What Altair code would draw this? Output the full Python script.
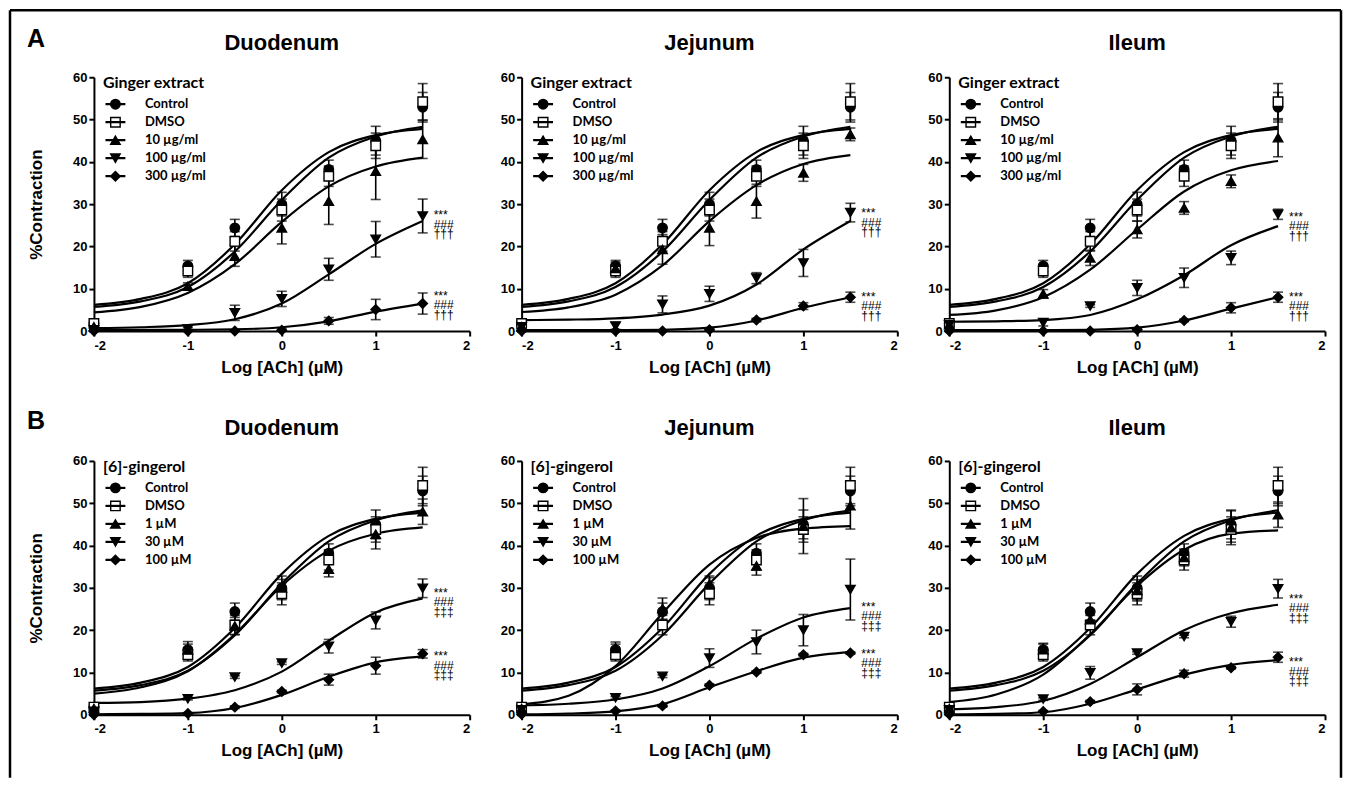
import altair as alt
import pandas as pd

# ---------------- data ----------------
X_DOSES = [-2, -1, -0.5, 0, 0.5, 1, 1.5]
CURVE_X = [-2, -1.5, -1, -0.5, 0, 0.5, 1, 1.5]
TISSUES = ["Duodenum", "Jejunum", "Ileum"]

GINGER_TITLE = "Ginger extract"
GINGEROL_TITLE = "[6]-gingerol"
GINGER_SERIES = ["Control", "DMSO", "10 µg/ml", "100 µg/ml", "300 µg/ml"]
GINGEROL_SERIES = ["Control", "DMSO", "1 µM", "30 µM", "100 µM"]

CONTROL_MEAN = [1.8, 15.4, 24.4, 30.0, 38.2, 45.0, 52.9]
CONTROL_SEM = [0.5, 1.3, 2.0, 2.8, 2.2, 3.4, 3.5]
CONTROL_CURVE = [6.2, 7.6, 11.3, 20.5, 33.3, 42.3, 46.3, 47.8]
DMSO_MEAN = [1.8, 14.2, 21.2, 28.6, 36.6, 43.8, 54.2]
DMSO_SEM = [0.6, 1.5, 2.3, 2.6, 2.4, 3.0, 4.3]
DMSO_CURVE = [5.7, 7.0, 10.4, 18.8, 31.0, 41.0, 46.0, 48.3]

GINGER10_MEAN = {"Duodenum": [1.0, 10.6, 17.7, 24.4, 30.7, 37.8, 45.3],
                 "Jejunum": [1.0, 14.8, 19.3, 24.4, 30.7, 37.4, 46.5],
                 "Ileum": [1.5, 8.8, 17.3, 24.0, 29.1, 35.4, 45.7]}
GINGER10_SEM = {"Duodenum": [0.5, 0.8, 2.4, 3.8, 5.5, 6.7, 4.5],
                "Jejunum": [0.5, 1.5, 3.5, 4.2, 4.0, 2.0, 1.5],
                "Ileum": [0.5, 1.0, 1.8, 2.0, 1.5, 1.5, 4.5]}
GINGER10_CURVE = {"Duodenum": [4.4, 5.7, 9.0, 15.8, 25.8, 34.2, 38.9, 41.0],
                  "Jejunum": [4.5, 5.6, 8.6, 15.5, 26.0, 34.5, 39.5, 41.6],
                  "Ileum": [3.8, 4.9, 8.0, 14.5, 24.0, 33.0, 38.0, 40.2]}

GINGER100_MEAN = {"Duodenum": [0.3, 0.5, 4.3, 7.6, 14.6, 21.7, 27.2],
                  "Jejunum": [1.0, 1.2, 6.3, 8.8, 12.5, 16.1, 28.0],
                  "Ileum": [1.5, 2.0, 5.9, 10.2, 12.6, 17.3, 27.6]}
GINGER100_SEM = {"Duodenum": [0.3, 0.3, 1.8, 1.8, 2.6, 4.2, 4.0],
                 "Jejunum": [0.5, 0.8, 2.0, 1.8, 1.3, 3.2, 2.2],
                 "Ileum": [0.5, 0.8, 0.3, 1.8, 2.3, 1.6, 1.2]}
GINGER100_CURVE = {"Duodenum": [0.7, 0.9, 1.4, 2.8, 6.5, 13.4, 20.6, 26.0],
                   "Jejunum": [2.6, 2.7, 3.0, 3.9, 6.0, 11.0, 19.3, 26.0],
                   "Ileum": [2.2, 2.3, 2.6, 3.8, 7.5, 13.2, 20.3, 24.8]}

GINGER300_MEAN = {"Duodenum": [0.0, 0.0, 0.0, 0.2, 2.4, 5.1, 6.5],
                  "Jejunum": [0.0, 0.0, 0.0, 0.3, 2.6, 5.9, 8.0],
                  "Ileum": [0.0, 0.0, 0.0, 0.3, 2.5, 5.5, 8.0]}
GINGER300_SEM = {"Duodenum": [0.2, 0.2, 0.2, 0.3, 0.8, 2.4, 2.5],
                 "Jejunum": [0.2, 0.2, 0.2, 0.3, 0.4, 0.8, 1.2],
                 "Ileum": [0.2, 0.2, 0.2, 0.3, 0.3, 1.2, 1.2]}
GINGER300_CURVE = {"Duodenum": [0.3, 0.3, 0.3, 0.4, 0.9, 2.3, 4.6, 6.5],
                   "Jejunum": [0.2, 0.2, 0.2, 0.3, 0.8, 2.5, 5.5, 8.0],
                   "Ileum": [0.2, 0.2, 0.2, 0.3, 0.8, 2.5, 5.3, 8.0]}

GINGEROL1_MEAN = {"Duodenum": [1.5, 15.3, 21.0, 30.0, 34.4, 42.7, 48.0],
                  "Jejunum": [1.5, 15.7, 25.1, 30.9, 35.2, 44.6, 49.4],
                  "Ileum": [1.5, 15.4, 22.5, 29.4, 37.2, 44.2, 47.3]}
GINGEROL1_SEM = {"Duodenum": [0.5, 2.0, 2.0, 2.0, 1.8, 3.5, 3.0],
                 "Jejunum": [0.5, 1.5, 2.5, 1.5, 2.2, 6.5, 5.5],
                 "Ileum": [0.5, 1.5, 2.0, 2.5, 2.0, 4.0, 3.0]}
GINGEROL1_CURVE = {"Duodenum": [5.0, 6.5, 10.3, 19.0, 30.5, 38.8, 42.8, 44.3],
                   "Jejunum": [2.5, 4.5, 11.5, 24.0, 35.5, 41.8, 44.0, 44.6],
                   "Ileum": [3.0, 4.8, 9.5, 19.0, 30.5, 39.0, 42.8, 43.6]}

GINGEROL30_MEAN = {"Duodenum": [0.8, 3.8, 8.9, 12.2, 16.2, 22.3, 29.9],
                   "Jejunum": [1.2, 4.0, 9.1, 13.4, 17.2, 20.0, 29.6],
                   "Ileum": [1.2, 3.7, 9.9, 14.6, 18.5, 22.0, 29.8]}
GINGEROL30_SEM = {"Duodenum": [0.3, 0.3, 0.3, 0.3, 1.6, 2.0, 2.2],
                  "Jejunum": [0.3, 0.3, 0.3, 2.2, 2.8, 3.7, 7.2],
                  "Ileum": [0.3, 0.3, 1.5, 0.3, 0.3, 1.3, 2.2]}
GINGEROL30_CURVE = {"Duodenum": [2.8, 3.0, 3.8, 5.8, 10.2, 17.5, 24.2, 27.5],
                    "Jejunum": [2.2, 2.6, 3.6, 6.2, 11.5, 18.0, 23.0, 25.2],
                    "Ileum": [1.3, 1.8, 3.3, 7.3, 13.6, 20.0, 24.0, 26.0]}

GINGEROL100_MEAN = {"Duodenum": [0.0, 0.3, 1.8, 5.5, 8.3, 11.6, 14.4],
                    "Jejunum": [0.1, 0.9, 2.1, 7.0, 10.1, 14.2, 14.6],
                    "Ileum": [0.1, 0.8, 3.1, 6.0, 9.7, 11.1, 13.6]}
GINGEROL100_SEM = {"Duodenum": [0.2, 0.2, 0.3, 0.3, 1.3, 2.0, 1.0],
                   "Jejunum": [0.2, 0.2, 0.3, 0.3, 0.3, 0.3, 0.3],
                   "Ileum": [0.2, 0.2, 0.3, 1.3, 0.8, 0.3, 1.2]}
GINGEROL100_CURVE = {"Duodenum": [0.1, 0.2, 0.4, 1.6, 4.7, 9.0, 12.4, 13.8],
                     "Jejunum": [0.1, 0.3, 0.8, 2.5, 6.5, 10.3, 13.5, 14.8],
                     "Ileum": [0.1, 0.2, 0.6, 2.6, 6.0, 9.5, 11.8, 12.9]}

# significance marks: y value of each stack (two treated series per panel)
ANNOT_A_Y = {"Duodenum": [27.4, 8.3], "Jejunum": [27.8, 8.1], "Ileum": [27.0, 8.1]}
ANNOT_B_Y = {"Duodenum": [28.8, 13.8], "Jejunum": [25.5, 14.4], "Ileum": [27.4, 12.4]}
ANNOT_A_TEXT = "***\n###\n†††"
ANNOT_B_TEXT = "***\n###\n‡‡‡"

# ---------------- styling ----------------
SHAPES = ["circle", "square", "triangle-up", "triangle-down", "diamond"]
FILLS = ["black", "white", "black", "black", "black"]
STROKES = ["black"] * 5
LEGEND_LINE = "M-2.1,0H2.1"
AXIS_FONT = "Liberation Sans"
LEG_FONT = "Lato"
PW, PH = 376, 254
MARK_SIZE = 90


def legend_params(title, line):
    # two legends are overlaid: one draws the line of each entry, the other
    # the marker, the label and the title; fixed entry heights keep them aligned
    common = dict(
        orient="none", legendX=9, legendY=-2, padding=0, direction="vertical",
        titleFont=LEG_FONT, titleFontSize=16, titleFontWeight="bold", titleColor="black",
        titlePadding=4,
        labelFont=LEG_FONT, labelFontSize=13, labelFontWeight="bold", labelColor="black",
        labelOffset=23, rowPadding=0, clipHeight=18, symbolSize=MARK_SIZE, symbolOffset=6,
        symbolStrokeWidth=2.2 if line else 1.4,
    )
    if line:
        return alt.Legend(title=" ", symbolType=LEGEND_LINE, labelExpr="''",
                          zindex=2, **common)
    return alt.Legend(title=title, zindex=1, **common)


def build_panel(tissue, col, series, legend_title, t_means, t_sems, t_curves,
                annot_y, annot_text, letter):
    means = [CONTROL_MEAN, DMSO_MEAN] + [m[tissue] for m in t_means]
    sems = [CONTROL_SEM, DMSO_SEM] + [s[tissue] for s in t_sems]
    curves = [CONTROL_CURVE, DMSO_CURVE] + [c[tissue] for c in t_curves]
    # curve keys differ from the point keys so that Vega-Lite keeps the
    # line legend and the marker legend apart (they are overlaid instead)
    curve_keys = [name + " " for name in series]

    pts = pd.DataFrame([
        {"series": name, "order": i, "x": xv, "mean": mv,
         "lo": max(mv - sv, 0.0), "hi": mv + sv}
        for i, (name, m, s) in enumerate(zip(series, means, sems))
        for xv, mv, sv in zip(X_DOSES, m, s)
    ])
    crv = pd.DataFrame([
        {"curve": key, "x": xv, "y": yv}
        for key, c in zip(curve_keys, curves)
        for xv, yv in zip(CURVE_X, c)
    ])
    ann = pd.DataFrame([
        {"x": X_DOSES[-1], "y": yv, "t": annot_text} for yv in annot_y[tissue]
    ])

    xscale = alt.Scale(domain=[-2, 2], nice=False, zero=False)
    yscale = alt.Scale(domain=[0, 60], nice=False, zero=False)
    xaxis = alt.Axis(values=[-2, -1, 0, 1, 2], labelExpr="datum.value",
                     titlePadding=7, labelPadding=3)
    yaxis = alt.Axis(values=[0, 10, 20, 30, 40, 50, 60], titlePadding=27,
                     labelPadding=2)
    xtitle = "Log [ACh] (µM)"
    ytitle = "%Contraction" if col == 0 else None

    def X(field):
        return alt.X(field, type="quantitative", scale=xscale, axis=xaxis, title=xtitle)

    def Y(field):
        return alt.Y(field, type="quantitative", scale=yscale, axis=yaxis, title=ytitle)

    lines = alt.Chart(crv).mark_line(interpolate="monotone", strokeWidth=2.2).encode(
        x=X("x"), y=Y("y"),
        color=alt.Color("curve:N", scale=alt.Scale(domain=curve_keys, range=STROKES),
                        legend=legend_params(legend_title, True)))

    errs = alt.Chart(pts).mark_errorbar(ticks=True, size=10, thickness=1.6,
                                        color="black").encode(
        x=X("x"), y=Y("lo"), y2="hi")

    leg = legend_params(legend_title, False)
    points = alt.Chart(pts).mark_point(filled=True, size=MARK_SIZE, strokeWidth=1.4,
                                       opacity=1).encode(
        x=X("x"), y=Y("mean"),
        shape=alt.Shape("series:N", scale=alt.Scale(domain=series, range=SHAPES), legend=leg),
        fill=alt.Fill("series:N", scale=alt.Scale(domain=series, range=FILLS), legend=leg),
        stroke=alt.Stroke("series:N", scale=alt.Scale(domain=series, range=STROKES), legend=leg),
        order="order:Q",
    )

    notes = alt.Chart(ann).mark_text(align="left", baseline="middle", dx=11,
                                     lineBreak="\n", fontSize=12, lineHeight=9.5,
                                     font=AXIS_FONT, color="black").encode(
        x=X("x"), y=Y("y"), text="t:N")

    one = pd.DataFrame({"k": [0]})
    title = alt.Chart(one).mark_text(
        font=AXIS_FONT, fontSize=22, fontWeight="bold", color="black",
        align="center", baseline="middle").encode(
        x=alt.value(PW / 2), y=alt.value(-34 if letter == "A" else -33),
        text=alt.value(tissue))

    layers = [lines, errs, points, notes, title]

    if col == 0:
        layers.append(alt.Chart(one).mark_text(
            font=AXIS_FONT, fontSize=25, fontWeight="bold", color="black",
            align="center", baseline="middle").encode(
            x=alt.value(-58), y=alt.value(-38 if letter == "A" else -40),
            text=alt.value(letter)))
        if letter == "A":
            frame = alt.Chart(one).mark_rule(color="black", strokeWidth=2.5)
            layers.append(frame.encode(x=alt.value(-84), x2=alt.value(1248), y=alt.value(-67)))
            layers.append(frame.encode(x=alt.value(-84), y=alt.value(-67), y2=alt.value(701)))
            layers.append(frame.encode(x=alt.value(1248), y=alt.value(-67), y2=alt.value(701)))

    return alt.layer(*layers).properties(width=PW, height=PH)


panels = []
for i, t in enumerate(TISSUES):
    panels.append(build_panel(t, i, GINGER_SERIES, GINGER_TITLE,
                              [GINGER10_MEAN, GINGER100_MEAN, GINGER300_MEAN],
                              [GINGER10_SEM, GINGER100_SEM, GINGER300_SEM],
                              [GINGER10_CURVE, GINGER100_CURVE, GINGER300_CURVE],
                              ANNOT_A_Y, ANNOT_A_TEXT, "A"))
for i, t in enumerate(TISSUES):
    panels.append(build_panel(t, i, GINGEROL_SERIES, GINGEROL_TITLE,
                              [GINGEROL1_MEAN, GINGEROL30_MEAN, GINGEROL100_MEAN],
                              [GINGEROL1_SEM, GINGEROL30_SEM, GINGEROL100_SEM],
                              [GINGEROL1_CURVE, GINGEROL30_CURVE, GINGEROL100_CURVE],
                              ANNOT_B_Y, ANNOT_B_TEXT, "B"))

chart = alt.concat(*panels, columns=3, spacing={"row": 130, "column": 52},
                   bounds="flush").resolve_scale(
    shape="independent", fill="independent", stroke="independent", color="independent"
).resolve_legend(
    shape="independent", fill="independent", stroke="independent", color="independent"
).properties(
    padding=0, background="white"
).configure_view(strokeWidth=0).configure_axis(
    grid=False, domainColor="black", domainWidth=2, tickColor="black", tickWidth=2,
    tickSize=5, labelFont=AXIS_FONT, labelFontSize=13, labelFontWeight="bold",
    labelColor="black", titleFont=AXIS_FONT, titleFontSize=17, titleFontWeight="bold",
    titleColor="black",
)

chart.save("out.html", embed_options={"renderer": "svg", "actions": False})
